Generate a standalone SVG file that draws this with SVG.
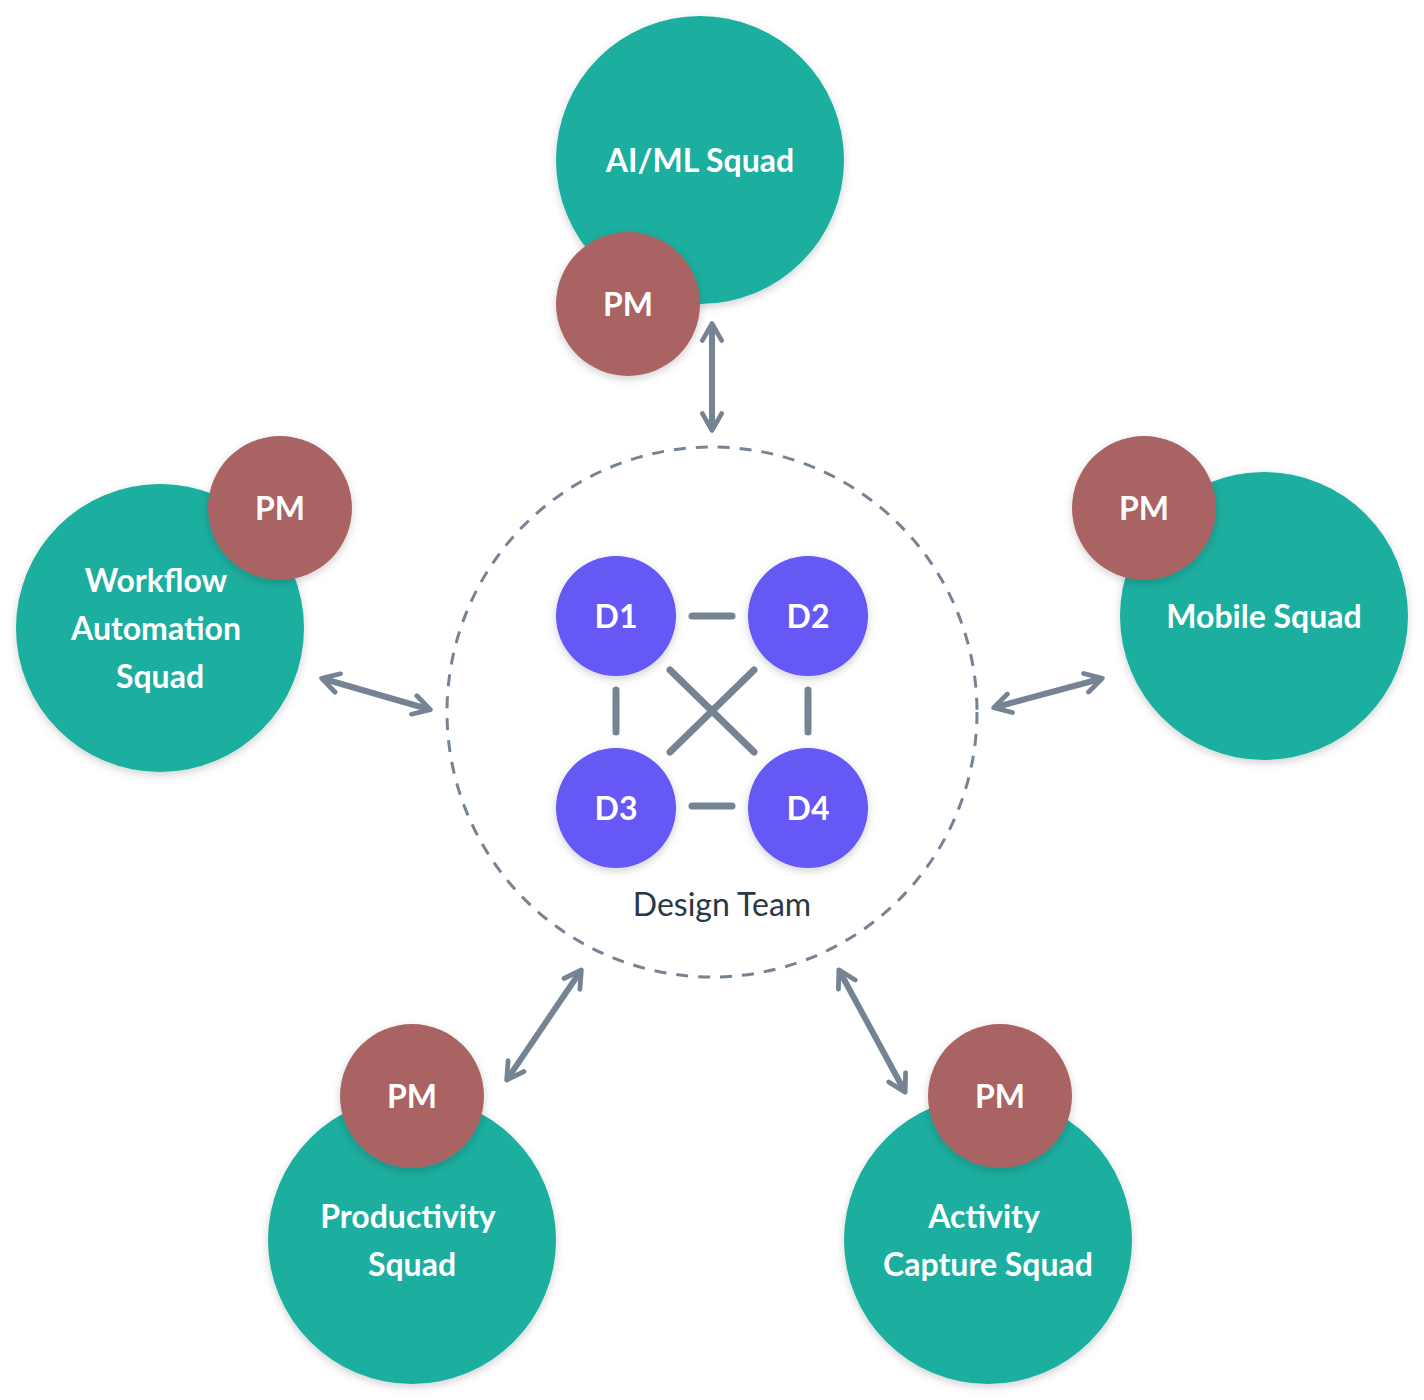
<svg xmlns="http://www.w3.org/2000/svg" width="1424" height="1400" viewBox="0 0 1424 1400">
<defs>
<filter id="sh" x="-20%" y="-20%" width="140%" height="140%"><feDropShadow dx="0" dy="3" stdDeviation="4" flood-color="#000" flood-opacity="0.18"/></filter>
<marker id="ah" viewBox="0 0 10 10" refX="7" refY="5" markerWidth="4" markerHeight="4" orient="auto-start-reverse"><path d="M1,1 L8,5 L1,9" fill="none" stroke="#758394" stroke-width="2" stroke-linecap="round" stroke-linejoin="round"/></marker>
<style>
.sq{fill:#1aae9f;filter:url(#sh)}
.pm{fill:#aa6464;filter:url(#sh)}
.d{fill:#6558f5;filter:url(#sh)}
.t{font-family:Lato,"Noto Sans",sans-serif;font-size:32px;font-weight:bold;fill:#fff;text-anchor:middle}
.lk{stroke:#758394;stroke-width:7;stroke-linecap:round;fill:none}
.ar{stroke:#758394;stroke-width:6;fill:none;marker-start:url(#ah);marker-end:url(#ah)}
</style>
</defs>
<rect width="1424" height="1400" fill="#fff"/>
<g id="design-team">
<circle cx="712" cy="712" r="265" fill="none" stroke="#758394" stroke-width="3" stroke-dasharray="12 10"/>
<text x="722" y="916" font-family="Lato,'Noto Sans',sans-serif" font-size="32" fill="#293845" text-anchor="middle">Design Team</text>
</g>
<g id="connectors">
<line class="lk" x1="692" y1="616" x2="732" y2="616"/>
<line class="lk" x1="692" y1="806" x2="732" y2="806"/>
<line class="lk" x1="616" y1="690" x2="616" y2="732"/>
<line class="lk" x1="808" y1="690" x2="808" y2="732"/>
<line class="lk" x1="670" y1="670" x2="754" y2="752"/>
<line class="lk" x1="754" y1="670" x2="670" y2="752"/>
<line class="ar" x1="712" y1="326" x2="712" y2="428"/>
<line class="ar" x1="324" y1="679" x2="428" y2="709"/>
<line class="ar" x1="996" y1="707" x2="1100" y2="679"/>
<line class="ar" x1="580" y1="972" x2="508" y2="1078"/>
<line class="ar" x1="840" y1="972" x2="904" y2="1090"/>
</g>
<g id="d1"><circle class="d" cx="616" cy="616" r="60"/><text class="t" x="616" y="628">D1</text></g>
<g id="d2"><circle class="d" cx="808" cy="616" r="60"/><text class="t" x="808" y="628">D2</text></g>
<g id="d3"><circle class="d" cx="616" cy="808" r="60"/><text class="t" x="616" y="820">D3</text></g>
<g id="d4"><circle class="d" cx="808" cy="808" r="60"/><text class="t" x="808" y="820">D4</text></g>
<g id="aiml"><circle class="sq" cx="700" cy="160" r="144"/><text class="t" x="700" y="172">AI/ML Squad</text>
<circle class="pm" cx="628" cy="304" r="72"/><text class="t" x="628" y="316">PM</text></g>
<g id="workflow"><circle class="sq" cx="160" cy="628" r="144"/><text class="t" x="156" y="592">Workflow</text><text class="t" x="156" y="640">Automation</text><text class="t" x="160" y="688">Squad</text>
<circle class="pm" cx="280" cy="508" r="72"/><text class="t" x="280" y="520">PM</text></g>
<g id="mobile"><circle class="sq" cx="1264" cy="616" r="144"/><text class="t" x="1264" y="628">Mobile Squad</text>
<circle class="pm" cx="1144" cy="508" r="72"/><text class="t" x="1144" y="520">PM</text></g>
<g id="productivity"><circle class="sq" cx="412" cy="1240" r="144"/><text class="t" x="408" y="1228">Productivity</text><text class="t" x="412" y="1276">Squad</text>
<circle class="pm" cx="412" cy="1096" r="72"/><text class="t" x="412" y="1108">PM</text></g>
<g id="activity"><circle class="sq" cx="988" cy="1240" r="144"/><text class="t" x="984" y="1228">Activity</text><text class="t" x="988" y="1276">Capture Squad</text>
<circle class="pm" cx="1000" cy="1096" r="72"/><text class="t" x="1000" y="1108">PM</text></g>
</svg>
